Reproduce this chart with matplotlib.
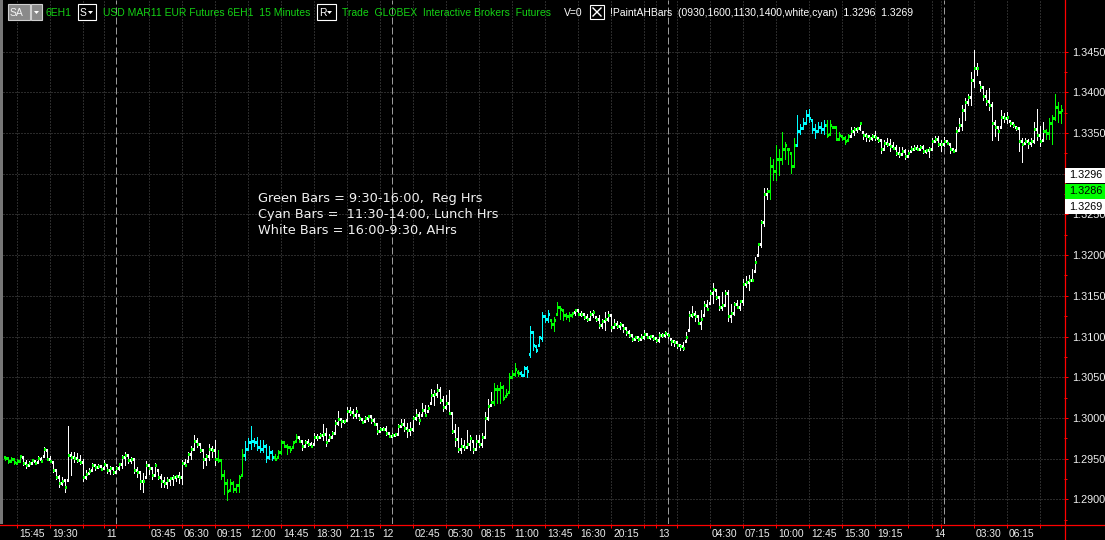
import numpy as np
import matplotlib
matplotlib.use("Agg")
import matplotlib.pyplot as plt
from matplotlib.lines import Line2D
from matplotlib.patches import Rectangle, Polygon
from matplotlib.transforms import Bbox
from datetime import datetime, timedelta

# ---------------- data (prices as pips above 1.2900) ----------------
BASE = 1.2900
high_pips = [
53,52,52,50,49,55,53,48,47,50,48,53,52,64,61,53,46,36,30,27,
25,90,58,58,57,54,50,36,39,45,43,43,42,48,42,41,39,41,45,54,
58,56,52,50,40,34,32,47,42,38,45,36,31,28,27,28,30,30,34,48,
50,58,66,79,75,69,60,56,68,66,73,61,48,36,25,25,23,19,30,62,
72,75,90,75,77,73,73,68,66,60,56,61,73,72,68,66,72,80,77,73,
73,74,70,82,80,82,93,88,80,84,97,109,100,98,113,113,111,113,103,99,
102,103,102,100,94,89,89,90,83,82,82,93,99,99,94,95,102,111,107,118,
116,116,136,134,142,138,127,128,134,106,93,89,75,73,85,79,72,79,79,81,
107,123,132,143,140,144,140,136,155,159,168,159,158,164,164,213,207,190,201,230,
227,233,222,224,242,238,232,229,230,230,234,233,231,229,228,231,233,224,226,222,
230,231,228,222,219,218,214,211,208,203,201,200,203,208,203,202,201,200,205,204,
207,203,197,196,194,191,193,205,231,237,231,226,232,244,245,257,266,257,250,255,
257,257,240,242,245,245,271,274,275,283,298,315,343,382,383,421,418,435,431,451,
439,431,425,444,472,461,468,478,479,466,461,464,464,466,466,466,458,457,451,447,
447,449,457,457,458,464,451,450,447,449,452,444,442,442,444,443,439,435,433,433,
431,429,434,435,435,435,435,431,433,444,446,447,442,445,442,437,432,457,468,484,
493,498,525,552,536,513,507,503,505,488,466,457,478,475,476,465,464,458,457,444,
444,443,444,464,480,459,464,455,469,472,498,488,484]
low_pips = [
48,45,46,43,44,46,42,38,41,43,43,45,46,52,48,46,34,25,15,17,
9,23,30,46,46,43,23,25,32,36,36,38,36,39,32,31,31,34,36,38,
42,45,45,32,27,13,9,27,31,25,30,25,15,15,14,18,18,23,20,19,
41,47,50,62,64,58,38,42,48,52,42,46,25,7,-1,11,9,9,9,30,
48,60,62,66,60,58,58,46,50,48,48,52,56,64,56,58,64,72,70,61,
66,65,64,68,73,77,73,66,73,77,82,91,89,94,97,104,100,100,97,94,
96,96,94,91,80,83,85,79,76,77,78,80,89,84,77,79,84,97,93,103,
102,109,118,116,126,118,109,111,106,81,66,58,57,61,64,61,57,62,64,64,
75,98,116,116,118,118,122,127,132,150,152,152,151,151,150,175,183,181,190,195,
218,218,211,207,228,222,220,222,219,224,227,226,225,222,219,222,224,219,211,211,
208,219,207,211,210,209,206,202,199,195,196,195,196,197,198,197,196,193,193,199,
199,198,190,188,186,184,183,195,207,224,219,215,209,226,232,241,241,246,233,233,
239,219,218,226,235,232,239,261,257,269,281,300,310,336,369,369,392,392,398,412,
418,412,401,410,435,449,455,461,464,450,444,453,450,449,445,449,456,441,441,441,
437,441,446,448,451,454,443,440,440,442,442,439,425,429,434,428,431,423,420,423,
418,420,428,430,429,429,425,425,421,429,439,434,428,434,436,425,427,429,454,454,
466,485,484,506,521,502,491,485,478,442,447,442,458,464,462,459,457,454,428,414,
437,432,434,438,442,434,441,443,443,437,466,464,462]
open_pips = [
52,51,47,49,45,47,52,45,42,45,47,46,50,53,61,50,46,36,28,20,
24,24,54,52,51,48,46,28,32,36,42,40,41,39,42,36,38,34,38,43,
52,54,48,50,36,34,22,27,42,38,30,36,28,22,20,24,26,27,29,27,
45,47,56,62,72,68,60,50,53,62,60,50,48,30,20,11,20,13,17,30,
55,62,70,72,70,64,62,66,52,58,52,52,58,70,66,64,64,72,76,72,
66,70,68,68,76,77,79,80,73,77,82,94,99,96,97,108,107,104,103,99,
96,100,102,97,93,84,87,86,81,78,79,80,90,92,88,85,86,100,103,103,
110,109,118,128,130,134,122,114,118,106,84,74,62,66,64,68,72,62,72,68,
76,100,116,120,136,135,138,127,132,150,154,157,155,153,161,178,205,188,190,198,
225,222,220,215,228,236,232,226,225,227,230,232,228,228,224,222,228,224,222,214,
219,222,226,212,216,213,214,210,206,202,197,199,197,199,203,200,201,198,196,202,
202,203,197,194,193,190,188,195,208,226,228,225,217,226,239,241,253,257,249,236,
239,253,225,229,240,236,244,265,267,269,281,300,314,341,375,379,410,403,418,418,
431,431,425,410,435,452,456,462,472,466,455,453,458,455,460,449,458,457,443,447,
444,441,446,452,455,456,451,448,446,444,447,444,441,430,438,436,434,432,426,424,
428,422,428,431,432,431,433,428,429,430,440,443,437,436,440,437,430,429,454,460,
478,488,494,515,530,513,506,496,490,484,462,457,458,470,468,465,462,458,456,440,
438,440,438,440,455,448,441,452,450,462,468,482,476]
close_pips = [
51,47,50,46,47,53,45,42,45,48,45,51,47,62,50,47,36,28,20,23,
15,54,52,51,48,46,27,31,35,42,40,41,37,43,36,38,34,38,43,52,
54,48,50,36,34,22,22,42,38,30,42,28,22,20,24,26,27,29,27,45,
42,56,62,72,68,61,50,53,62,60,50,48,30,20,10,20,13,17,28,55,
62,70,72,70,64,62,66,52,58,52,50,58,70,66,64,62,70,76,72,66,
70,68,66,76,77,79,80,70,76,82,94,99,96,96,108,107,104,108,100,95,
100,102,97,93,84,87,86,81,78,79,80,90,92,88,85,86,100,103,98,110,
104,112,128,130,134,122,114,118,106,84,74,62,66,64,68,75,62,72,68,76,
100,115,120,136,135,138,124,130,150,154,160,155,153,161,158,205,190,184,199,225,
222,228,215,220,236,234,226,225,227,229,232,228,228,224,222,228,230,222,214,219,
222,226,212,216,213,216,210,206,202,197,199,197,199,203,200,201,198,196,202,202,
204,202,194,193,190,188,186,200,226,228,225,217,222,239,234,253,258,249,236,239,
253,225,229,240,236,244,265,267,269,270,291,314,341,375,379,410,403,418,418,431,
435,430,410,435,452,456,462,472,468,455,452,458,455,460,448,460,457,443,448,444,
440,446,452,455,456,462,448,446,444,447,445,441,430,438,436,434,432,426,424,428,
422,426,431,432,431,433,428,429,430,440,443,437,436,440,438,430,428,452,460,478,
488,494,515,530,530,506,496,490,484,462,458,452,470,468,470,462,460,456,440,436,
440,438,440,455,448,440,452,450,462,468,482,476,478]

first_bar = datetime(2011, 1, 10, 14, 45)   # 15-minute bars, 17:00-18:00 break
price_ticks = [1.2900, 1.2950, 1.3000, 1.3050, 1.3100, 1.3150, 1.3200,
               1.3250, 1.3300, 1.3350, 1.3400, 1.3450]
last_boxes = [("1.3296", "#ffffff"), ("1.3286", "#00ff00"), ("1.3269", "#ffffff")]
legend_lines = ["Green Bars = 9:30-16:00,  Reg Hrs",
                "Cyan Bars =  11:30-14:00, Lunch Hrs",
                "White Bars = 16:00-9:30, AHrs"]

n = min(len(high_pips), len(low_pips), len(open_pips), len(close_pips))
hi = BASE + np.array(high_pips[:n]) / 1e4
lo = BASE + np.array(low_pips[:n]) / 1e4
op = BASE + np.array(open_pips[:n]) / 1e4
cl = BASE + np.array(close_pips[:n]) / 1e4
idx = np.arange(n)

times = []
t = first_bar
while len(times) < n:
    times.append(t)
    t += timedelta(minutes=15)
    if t.hour == 17 and t.minute == 0:
        t += timedelta(hours=1)

GREEN, CYAN, WHITE = "#00ff00", "#00ffff", "#ffffff"
cols = []
for tt in times:
    m = tt.hour * 60 + tt.minute
    if 690 < m <= 840:
        cols.append(CYAN)
    elif 570 <= m <= 960:
        cols.append(GREEN)
    else:
        cols.append(WHITE)
close_cols = [GREEN if c == WHITE else c for c in cols]

# ---------------- figure ----------------
W, H = 1105, 540
fig = plt.figure(figsize=(W / 100, H / 100), dpi=100, facecolor="black")
AX_R, AX_B = 1064, 524
ax = fig.add_axes([0, (H - AX_B) / H, AX_R / W, AX_B / H])
ax.set_facecolor("black")
ax.set_xlim(-5 / 3, (AX_R - 5) / 3)
ax.set_ylim(1.286966, 1.351351)
for s in ax.spines.values():
    s.set_visible(False)

# time ticks
day_idx = [i for i, tt in enumerate(times) if tt.hour == 0 and tt.minute == 0]
sep_idx = [i for i, tt in enumerate(times) if tt.hour == 1 and tt.minute == 0]
tick_idx = list(range(4, n, 11))
all_ticks = sorted(set(tick_idx) | set(day_idx))

grid_c = "#555555"
for p in price_ticks:
    ax.axhline(p, color=grid_c, lw=0.72, ls=(0, (1, 2)), zorder=0)
for i in all_ticks:
    if i not in sep_idx:
        ax.axvline(i, color=grid_c, lw=0.72, ls=(0, (1, 2)), zorder=0)
for i in sep_idx:
    ax.axvline(i, color="#9a9a9a", lw=0.72, ls=(0, (7, 3)), zorder=0.5)

# OHLC bars
ax.vlines(idx, lo, hi, colors=cols, lw=0.72, antialiased=False, zorder=2)
ax.hlines(op, idx - 0.34, idx, colors=cols, lw=0.9, antialiased=False, zorder=2)
ax.hlines(cl, idx, idx + 0.4, colors=close_cols, lw=0.9, antialiased=False, zorder=3)

# axes ticks
ax.set_xticks(all_ticks)
ax.tick_params(axis="x", direction="out", length=3, width=0.72, color="red",
               labelbottom=False)
ax.yaxis.tick_right()
ax.set_yticks(price_ticks)
ax.set_yticks([p + 0.0025 for p in price_ticks[:-1]] + [1.2875], minor=True)
ax.set_yticklabels([f"{p:.4f}" for p in price_ticks])
ax.tick_params(axis="y", which="major", direction="out", length=3, width=0.72,
               color="red", labelcolor="#f0f0f0", labelsize=7.8, pad=3)
ax.tick_params(axis="y", which="minor", direction="out", length=2, width=0.72,
               color="red")
for lab, p in zip(ax.get_yticklabels(), price_ticks):
    lab.set_family("Liberation Sans")
    if abs(p - 1.3250) < 1e-6:
        # partly covered by the last-value boxes: only its lower part shows
        lab.set_clip_box(Bbox.from_extents(1064, 0, W, H - 214))
        lab.set_clip_on(True)

def near_day(i):
    return any(abs(i - d) <= 8 for d in day_idx)

xlab = dict(xycoords=("data", "axes fraction"), xytext=(2, -13),
            textcoords="offset pixels", ha="left", va="baseline", color="#ececec",
            fontsize=7.4, family="Liberation Sans", annotation_clip=False)
for i in tick_idx:
    if i in day_idx or near_day(i) or i > n - 10:
        continue
    ax.annotate(times[i].strftime("%H:%M"), xy=(i, 0), **xlab)
for i in day_idx:
    ax.annotate(str(times[i].day), xy=(i, 0), **xlab)

# ---------------- figure-level decorations ----------------
def fx(x):
    return x / W

def fy(y):
    return 1 - y / H

fig.add_artist(Line2D([fx(AX_R + 0.5)] * 2, [0, 1], color="red", lw=0.9, zorder=4))
fig.add_artist(Line2D([0, 1], [fy(AX_B + 0.5)] * 2, color="red", lw=0.9, zorder=4))
fig.add_artist(Rectangle((0, fy(AX_B)), fx(2.5), AX_B / H, facecolor="#777777",
                         edgecolor="none", zorder=4))

def rect(x0, y0, x1, y1, fc, ec="none", lw=0.8, z=5):
    fig.add_artist(Rectangle((fx(x0), fy(y1)), fx(x1 - x0), (y1 - y0) / H,
                             facecolor=fc, edgecolor=ec, lw=lw, zorder=z))

# last-value boxes on the price scale
box_y = [168, 183.5, 199]
for (txt, fc), y0 in zip(last_boxes, box_y):
    rect(1065, y0, W, y0 + 15, fc)
    fig.text(fx(1069), fy(y0 + 7.5), txt, color="black", fontsize=7.8,
             family="Liberation Sans", va="center", ha="left", zorder=6)

# legend text
for k, line in enumerate(legend_lines):
    fig.text(fx(258), fy(202 + 15.8 * k), line, color="#f2f2f2", fontsize=9.3,
             family="DejaVu Sans", va="baseline", ha="left", zorder=6)

# header
HG = "#14d214"
hy = fy(12.5)
hfont = dict(fontsize=7.5, family="Liberation Sans", va="center", ha="left", zorder=7)

def tri(x0, y0, c):
    fig.add_artist(Polygon([(fx(x0), fy(y0)), (fx(x0 + 5), fy(y0)), (fx(x0 + 2.5), fy(y0 + 3))],
                           closed=True, facecolor=c, edgecolor="none", zorder=7))

rect(8, 4, 30, 20, "#8a8a8a", "#cfcfcf")
fig.text(fx(10), hy, "SA", color="#f4f4f4", **hfont)
rect(31, 4, 42, 20, "#8a8a8a", "#cfcfcf")
tri(34, 11, "white")
fig.text(fx(46), hy, "6EH1", color=HG, **hfont)
rect(78, 4, 96, 20, "black", "white")
fig.text(fx(80), hy, "S", color="white", **hfont)
tri(88, 11, "white")
fig.text(fx(103), hy, "USD MAR11 EUR Futures 6EH1  15 Minutes", color=HG, **hfont)
rect(317, 4, 336, 20, "black", "white")
fig.text(fx(319), hy, "R", color="white", **hfont)
tri(327, 11, "white")
fig.text(fx(342), hy, "Trade  GLOBEX  Interactive Brokers  Futures", color=HG, **hfont)
fig.text(fx(564), hy, "V=0", color="white", **hfont)
rect(590, 5, 604, 19, "black", "white")
fig.add_artist(Line2D([fx(593), fx(601)], [fy(8), fy(16)], color="white", lw=1.0, zorder=7))
fig.add_artist(Line2D([fx(593), fx(601)], [fy(16), fy(8)], color="white", lw=1.0, zorder=7))
fig.text(fx(610), hy, "!PaintAHBars  (0930,1600,1130,1400,white,cyan)  1.3296  1.3269",
         color="white", **hfont)

fig.savefig("out.png", dpi=100, facecolor="black")
